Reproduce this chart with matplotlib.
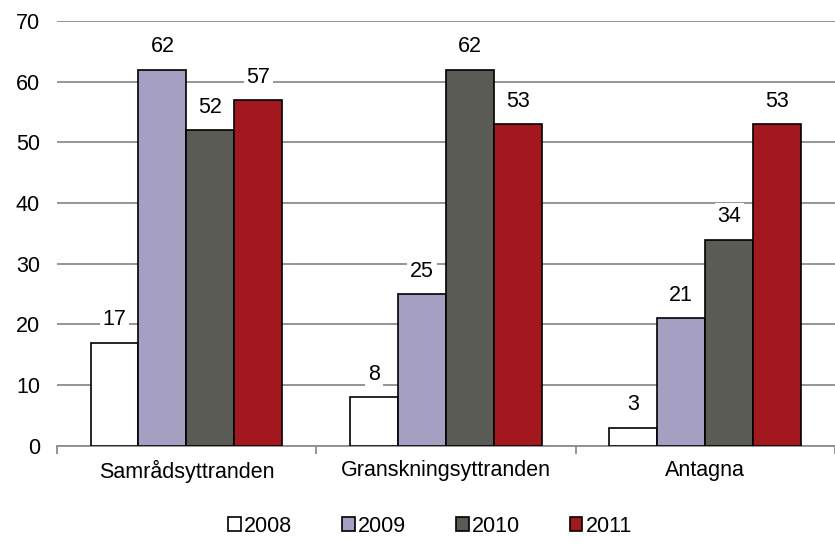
import matplotlib.pyplot as plt
import numpy as np

plt.rcParams['font.family'] = ['Liberation Sans', 'DejaVu Sans']

categories = ['Samrådsyttranden', 'Granskningsyttranden', 'Antagna']
years = ['2008', '2009', '2010', '2011']
values = {
    '2008': [17, 8, 3],
    '2009': [62, 25, 21],
    '2010': [52, 62, 34],
    '2011': [57, 53, 53],
}
colors = ['#ffffff', '#a5a0c2', '#5b5b56', '#a3181e']

fs = 15.5
fig = plt.figure(figsize=(8.35, 5.43), dpi=100)
ax = fig.add_axes([0.068, 0.179, 0.932, 0.782])

x = np.arange(len(categories))
w = 0.185
for i, (yr, c) in enumerate(zip(years, colors)):
    pos = x + (i - 1.5) * w
    bars = ax.bar(pos, values[yr], w, color=c, edgecolor='black', lw=1.2,
                  label=yr, zorder=3)
    for b, v in zip(bars, values[yr]):
        ax.annotate(str(v), (b.get_x() + b.get_width() / 2, v),
                    xytext=(0, 23), textcoords='offset pixels',
                    ha='center', va='center', fontsize=fs, zorder=4,
                    bbox=dict(facecolor='white', edgecolor='none', pad=2))

ax.set_xlim(-0.5, 2.5)
ax.set_ylim(0, 70)
ax.set_yticks(range(0, 71, 10))
ax.yaxis.grid(True, color='#8c8c8c', lw=1.3)
ax.set_axisbelow(True)
for s in ['top', 'right', 'left']:
    ax.spines[s].set_visible(False)
ax.spines['bottom'].set_color('#8c8c8c')
ax.spines['bottom'].set_linewidth(1.3)
ax.set_xticks(x)
ax.set_xticklabels(categories, fontsize=fs)
ax.set_xticks([-0.5, 0.5, 1.5, 2.5], minor=True)
ax.tick_params(axis='x', which='major', length=0, pad=10)
ax.tick_params(axis='x', which='minor', length=6, color='#8c8c8c', width=1.3)
ax.tick_params(axis='y', length=0, labelsize=fs, pad=12)

handles, labels = ax.get_legend_handles_labels()
fig.legend(handles, labels, loc='center', bbox_to_anchor=(0.515, 0.031), ncol=4,
           frameon=False, fontsize=fs, handlelength=0.6, handleheight=0.6,
           handletextpad=0.15, columnspacing=2.3)

fig.savefig('out.png', dpi=100)
